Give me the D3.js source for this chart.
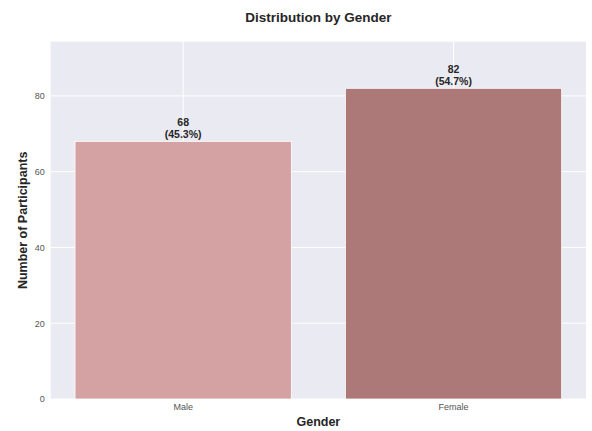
<!DOCTYPE html>
<html>
<head>
<meta charset="utf-8">
<script src="https://cdn.jsdelivr.net/npm/d3@7"></script>
<style>
  html, body { margin: 0; padding: 0; background: #ffffff; }
  svg { display: block; font-family: "Liberation Sans", Arial, sans-serif; }
</style>
</head>
<body>
<svg id="chart" width="592" height="431"></svg>
<script>
const categories = ["Male", "Female"];
const counts = [68, 82];
const percentLabels = ["45.3%", "54.7%"];
const barColors = ["#d4a2a3", "#ad7878"];
const yTicks = [0, 20, 40, 60, 80];

(function () {
const svg = d3.select("#chart");
const pLeft = 50.7, pRight = 586, pTop = 41.7, pBottom = 399;

const x = d3.scaleBand().domain(categories).range([pLeft, pRight])
  .paddingInner(0.2).paddingOuter(0.09);
const y = d3.scaleLinear().domain([0, d3.max(counts) * 1.15]).range([pBottom, pTop]);

// background
svg.append("rect").attr("x", pLeft).attr("y", pTop)
  .attr("width", pRight - pLeft).attr("height", pBottom - pTop).attr("fill", "#eaeaf2");

// gridlines
svg.append("g").selectAll("line").data(yTicks).join("line")
  .attr("x1", pLeft).attr("x2", pRight)
  .attr("y1", d => y(d)).attr("y2", d => y(d))
  .attr("stroke", "#ffffff").attr("stroke-width", 1);
svg.append("g").selectAll("line").data(categories).join("line")
  .attr("x1", d => x(d) + x.bandwidth() / 2).attr("x2", d => x(d) + x.bandwidth() / 2)
  .attr("y1", pTop).attr("y2", pBottom)
  .attr("stroke", "#ffffff").attr("stroke-width", 1);

// bars
svg.append("g").selectAll("rect").data(categories).join("rect")
  .attr("x", d => x(d)).attr("width", x.bandwidth())
  .attr("y", (d, i) => y(counts[i]))
  .attr("height", (d, i) => y(0) - y(counts[i]))
  .attr("fill", (d, i) => barColors[i])
  .attr("stroke", "#ffffff").attr("stroke-width", 0.8);

// value labels
const lab = svg.append("g").selectAll("text").data(categories).join("text")
  .attr("text-anchor", "middle")
  .attr("font-size", 10.5).attr("font-weight", "bold").attr("fill", "#262626");
lab.append("tspan")
  .attr("x", d => x(d) + x.bandwidth() / 2)
  .attr("y", (d, i) => y(counts[i]) - 15)
  .text((d, i) => counts[i]);
lab.append("tspan")
  .attr("x", d => x(d) + x.bandwidth() / 2)
  .attr("y", (d, i) => y(counts[i]) - 3)
  .text((d, i) => "(" + percentLabels[i] + ")");

// y axis
const yAxis = d3.axisLeft(y).tickValues(yTicks).tickSize(0).tickPadding(6);
const gy = svg.append("g").attr("transform", `translate(${pLeft},0)`).call(yAxis);
gy.select(".domain").remove();
gy.selectAll("text").attr("font-size", 9).attr("fill", "#555555")
  .attr("font-family", "'Liberation Sans', Arial, sans-serif");

// x axis
const xAxis = d3.axisBottom(x).tickSize(0).tickPadding(5);
const gx = svg.append("g").attr("transform", `translate(0,${pBottom})`).call(xAxis);
gx.select(".domain").remove();
gx.selectAll("text").attr("font-size", 9).attr("fill", "#555555")
  .attr("font-family", "'Liberation Sans', Arial, sans-serif");

// titles
svg.append("text").attr("x", (pLeft + pRight) / 2).attr("y", 22)
  .attr("text-anchor", "middle").attr("font-size", 13.5).attr("font-weight", "bold")
  .attr("fill", "#262626").text("Distribution by Gender");
svg.append("text").attr("x", (pLeft + pRight) / 2).attr("y", 426)
  .attr("text-anchor", "middle").attr("font-size", 12.5).attr("font-weight", "bold")
  .attr("fill", "#262626").text("Gender");
svg.append("text")
  .attr("transform", `translate(27,${(pTop + pBottom) / 2}) rotate(-90)`)
  .attr("text-anchor", "middle").attr("font-size", 12.5).attr("font-weight", "bold")
  .attr("fill", "#262626").text("Number of Participants");
})();
</script>
</body>
</html>
